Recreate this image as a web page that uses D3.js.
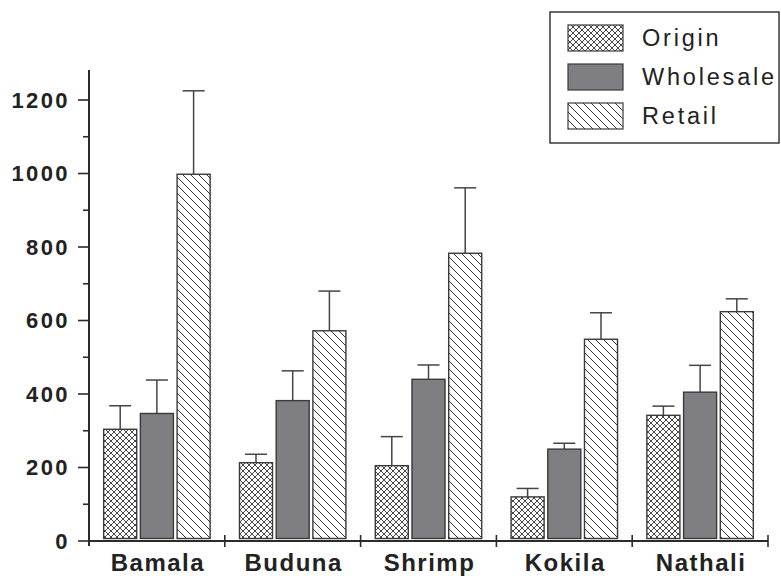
<!DOCTYPE html>
<html>
<head>
<meta charset="utf-8">
<script src="https://cdn.jsdelivr.net/npm/d3@7"></script>
<style>
  html, body { margin: 0; padding: 0; background: #fff; }
  svg { display: block; }
</style>
</head>
<body>
<svg id="chart" width="781" height="576"></svg>
<script>
// Fish names along the x axis
const categories = ["Bamala", "Buduna", "Shrimp", "Kokila", "Nathali"];
// Price level series
const seriesNames = ["Origin", "Wholesale", "Retail"];
// Mean price per category for each series
const originValues    = [304, 213, 205, 120, 342];
const wholesaleValues = [347, 382, 440, 250, 405];
const retailValues    = [998, 572, 783, 549, 624];
// Standard deviation (upper error bar) per category for each series
const originErrors    = [64, 23, 79, 23, 25];
const wholesaleErrors = [91, 81, 39, 16, 73];
const retailErrors    = [227, 108, 178, 72, 35];
// Y axis ticks
const yMajorTicks = [0, 200, 400, 600, 800, 1000, 1200];
const yMinorTicks = [100, 300, 500, 700, 900, 1100];

const values = [originValues, wholesaleValues, retailValues];
const errors = [originErrors, wholesaleErrors, retailErrors];

const svg = d3.select("#chart");
const ink = "#2b2b2b";
const fontFamily = "'Liberation Sans', Arial, Helvetica, sans-serif";

// Fill patterns: cross-hatch, solid grey, back-diagonal hatch
const defs = svg.append("defs");
const cross = defs.append("pattern")
  .attr("id", "pat-cross").attr("patternUnits", "userSpaceOnUse")
  .attr("width", 6).attr("height", 6);
cross.append("rect").attr("width", 6).attr("height", 6).attr("fill", "#fff");
cross.append("path").attr("d", "M0,0L6,6M6,0L0,6")
  .attr("stroke", "#333").attr("stroke-width", 0.9).attr("fill", "none");

const diag = defs.append("pattern")
  .attr("id", "pat-diag").attr("patternUnits", "userSpaceOnUse")
  .attr("width", 8).attr("height", 8);
diag.append("rect").attr("width", 8).attr("height", 8).attr("fill", "#fff");
diag.append("path").attr("d", "M-2,-2L10,10M-2,6L2,10M6,-2L10,2")
  .attr("stroke", "#333").attr("stroke-width", 1).attr("fill", "none");

const fills = ["url(#pat-cross)", "#7f7f83", "url(#pat-diag)"];

// Scales
const x0 = d3.scaleBand().domain(categories).range([89, 768]).padding(0);
const x1 = d3.scaleBand().domain(seriesNames).range([0, x0.bandwidth()])
  .paddingInner(0.1).paddingOuter(0.4);
const y = d3.scaleLinear().domain([0, 1200]).range([541, 100]);
const barBase = y(0) - 2.5;

// Bars
const rows = [];
categories.forEach((c, i) => {
  seriesNames.forEach((s, j) => {
    rows.push({ cat: c, series: s, j, v: values[j][i], e: errors[j][i] });
  });
});

const g = svg.append("g");
g.selectAll("rect.bar").data(rows).join("rect")
  .attr("class", "bar")
  .attr("x", d => x0(d.cat) + x1(d.series))
  .attr("y", d => y(d.v))
  .attr("width", x1.bandwidth())
  .attr("height", d => barBase - y(d.v))
  .attr("fill", d => fills[d.j])
  .attr("stroke", "#3a3a3a")
  .attr("stroke-width", 1.4);

// Error bars (upper only)
const capHalf = 11;
const eb = g.selectAll("g.err").data(rows).join("g").attr("class", "err")
  .attr("stroke", "#454545").attr("stroke-width", 1.5);
eb.append("line")
  .attr("x1", d => x0(d.cat) + x1(d.series) + x1.bandwidth() / 2)
  .attr("x2", d => x0(d.cat) + x1(d.series) + x1.bandwidth() / 2)
  .attr("y1", d => y(d.v))
  .attr("y2", d => y(d.v + d.e));
eb.append("line")
  .attr("x1", d => x0(d.cat) + x1(d.series) + x1.bandwidth() / 2 - capHalf)
  .attr("x2", d => x0(d.cat) + x1(d.series) + x1.bandwidth() / 2 + capHalf)
  .attr("y1", d => y(d.v + d.e))
  .attr("y2", d => y(d.v + d.e));

// Y axis
const yAxis = svg.append("g").attr("transform", "translate(89,0)");
yAxis.append("line").attr("x1", 0).attr("x2", 0).attr("y1", 70).attr("y2", 546)
  .attr("stroke", ink).attr("stroke-width", 2);
yAxis.selectAll("line.major").data(yMajorTicks).join("line").attr("class", "major")
  .attr("x1", -11).attr("x2", 0).attr("y1", d => y(d)).attr("y2", d => y(d))
  .attr("stroke", ink).attr("stroke-width", 1.6);
yAxis.selectAll("line.minor").data(yMinorTicks).join("line").attr("class", "minor")
  .attr("x1", -6).attr("x2", 0).attr("y1", d => y(d)).attr("y2", d => y(d))
  .attr("stroke", ink).attr("stroke-width", 1.6);
yAxis.selectAll("text").data(yMajorTicks).join("text")
  .attr("x", -19).attr("y", d => y(d)).attr("dy", "0.36em")
  .attr("text-anchor", "end")
  .attr("font-family", fontFamily).attr("font-weight", "bold")
  .attr("font-size", 22).attr("letter-spacing", "2.4px")
  .attr("fill", "#222")
  .text(d => d);

// X axis
const xAxis = svg.append("g");
xAxis.append("line").attr("x1", 89).attr("x2", 768).attr("y1", y(0)).attr("y2", y(0))
  .attr("stroke", ink).attr("stroke-width", 2);
const bounds = categories.map(c => x0(c) + x0.bandwidth());
xAxis.selectAll("line.tick").data(bounds).join("line").attr("class", "tick")
  .attr("x1", d => d).attr("x2", d => d)
  .attr("y1", y(0) - 6).attr("y2", y(0) + 6)
  .attr("stroke", ink).attr("stroke-width", 1.6);
xAxis.selectAll("text").data(categories).join("text")
  .attr("x", d => x0(d) + x0.bandwidth() / 2 + 1)
  .attr("y", 571)
  .attr("text-anchor", "middle")
  .attr("font-family", fontFamily).attr("font-weight", "bold")
  .attr("font-size", 24).attr("letter-spacing", "1.5px")
  .attr("fill", "#222")
  .text(d => d);

// Legend
const legend = svg.append("g");
legend.append("rect").attr("x", 550).attr("y", 12).attr("width", 229).attr("height", 131)
  .attr("fill", "#fff").attr("stroke", ink).attr("stroke-width", 1.4);
const legendY = d3.scalePoint().domain(seriesNames).range([38, 116]);
const items = legend.selectAll("g.item").data(seriesNames).join("g").attr("class", "item");
items.append("rect")
  .attr("x", 568).attr("y", d => legendY(d) - 13)
  .attr("width", 55).attr("height", 26)
  .attr("fill", (d, i) => fills[i])
  .attr("stroke", "#3a3a3a").attr("stroke-width", 1.2);
items.append("text")
  .attr("x", 642).attr("y", d => legendY(d)).attr("dy", "0.36em")
  .attr("font-family", fontFamily)
  .attr("font-size", 23.5).attr("letter-spacing", "2.8px")
  .attr("fill", "#222")
  .text(d => d);
</script>
</body>
</html>
